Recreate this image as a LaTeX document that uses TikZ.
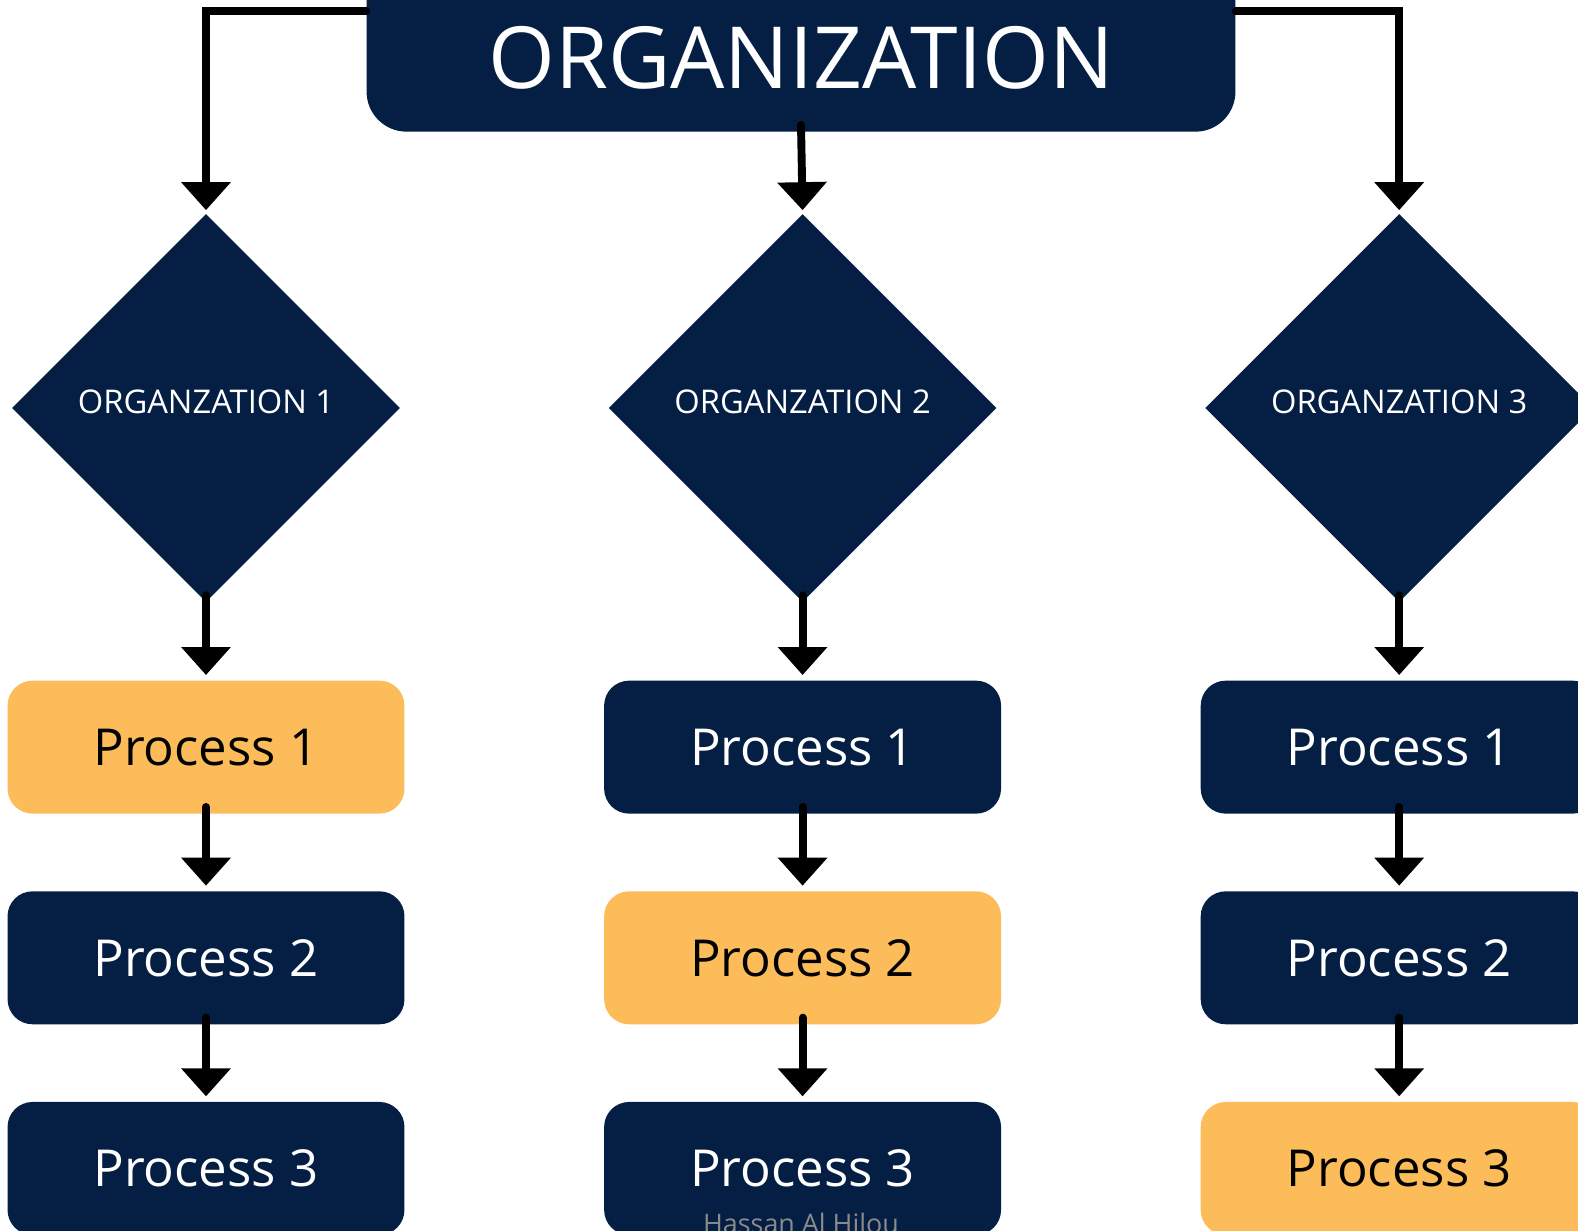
\documentclass[tikz,border=0pt]{standalone}
\usepackage{fontspec}
\setmainfont{Open Sans}
\usetikzlibrary{positioning, arrows.meta, shapes.geometric}
\definecolor{navy}{HTML}{041E44}
\definecolor{amber}{HTML}{FDBC5A}
\definecolor{markgray}{HTML}{8A8A8A}

\begin{document}
\begin{tikzpicture}[x=0.02cm, y=-0.02cm, node distance=1.54cm,
    orgbox/.style={diamond, aspect=1, fill=navy, text=white, inner sep=0pt,
        minimum size=7.76cm, text depth=6.8pt, font=\fontsize{18.6}{20}\selectfont},
    procbox/.style={rectangle, rounded corners=0.5cm, fill=navy, text=white,
        minimum width=7.94cm, minimum height=2.66cm, font=\fontsize{29}{34}\selectfont},
    prochi/.style={procbox, fill=amber, text=black},
    arr/.style={line width=4.5pt, line cap=round,
        -{Triangle[length=0.56cm, width=0.96cm]}}]

    \useasboundingbox (0,0) rectangle (1578,1230);
    \clip (0,0) rectangle (1578,1230);

    % title box, its top runs off the page
    \node [fill=navy, rounded corners=0.8cm, minimum width=17.38cm,
        minimum height=5cm, anchor=south] (title) at (801,132) {};
    \node [text=white, font=\fontsize{48.8}{52}\selectfont] (titletext) at (801,58) {ORGANIZATION};

    \node [orgbox] (org1) at (206,408) {ORGANZATION 1};
    \node [orgbox, right=4.16cm of org1] (org2) {ORGANZATION 2};
    \node [orgbox, right=4.16cm of org2] (org3) {ORGANZATION 3};

    \node [prochi, below=1.56cm of org1] (p11) {Process 1};
    \node [procbox, below=of p11] (p12) {Process 2};
    \node [procbox, below=of p12] (p13) {Process 3};

    \node [procbox, below=1.56cm of org2] (p21) {Process 1};
    \node [prochi, below=of p21] (p22) {Process 2};
    \node [procbox, below=of p22] (p23) {Process 3};

    \node [procbox, below=1.56cm of org3] (p31) {Process 1};
    \node [procbox, below=of p31] (p32) {Process 2};
    \node [prochi, below=of p32] (p33) {Process 3};

    % watermark, cut by the lower edge
    \node [text=markgray, font=\fontsize{15.3}{18}\selectfont, anchor=base] (mark) at (801,1233) {Hassan Al Hilou};

    \draw [arr] (title.west |- 0,11) -| ([yshift=2pt]org1.north);
    \draw [arr] (title.east |- 0,11) -| ([yshift=2pt]org3.north);
    \draw [arr] ([yshift=4pt]title.south) -- ([yshift=2pt]org2.north);

    \foreach \c in {1,2,3} {
        \draw [arr] ([yshift=4pt]org\c.south) -- ([yshift=3pt]p\c1.north);
        \draw [arr] ([yshift=4pt]p\c1.south) -- ([yshift=3pt]p\c2.north);
        \draw [arr] ([yshift=4pt]p\c2.south) -- ([yshift=3pt]p\c3.north);
    }
\end{tikzpicture}
\end{document}
